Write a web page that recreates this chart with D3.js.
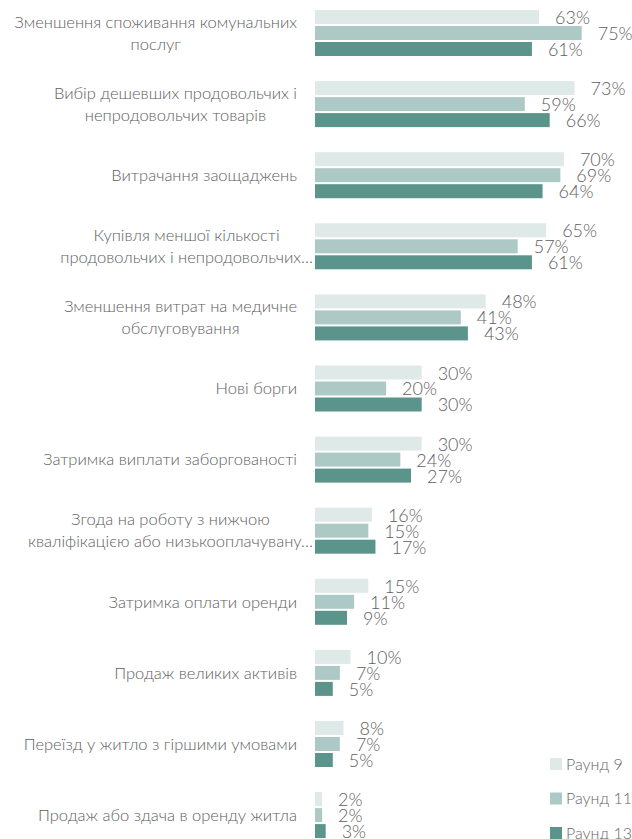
<!DOCTYPE html>
<html lang="uk">
<head>
    <meta charset="UTF-8">
    <title>Стратегії подолання</title>
    <script src="https://d3js.org/d3.v7.min.js"></script>
    <style>
        body, html {
            margin: 0;
            padding: 0;
            background: #fff;
            overflow: hidden;
        }
        text {
            font-family: Lato, "Open Sans", sans-serif;
            font-weight: 300;
        }
    </style>
</head>
<body>
    <div id="chart"></div>
    <script>
        // categories (line breaks as in the picture)
        var categories = [
            ["Зменшення споживання комунальних", "послуг"],
            ["Вибір дешевших продовольчих і", "непродовольчих товарів"],
            ["Витрачання заощаджень"],
            ["Купівля меншої кількості", "продовольчих і непродовольчих…"],
            ["Зменшення витрат на медичне", "обслуговування"],
            ["Нові борги"],
            ["Затримка виплати заборгованості"],
            ["Згода на роботу з нижчою", "кваліфікацією або низькооплачувану…"],
            ["Затримка оплати оренди"],
            ["Продаж великих активів"],
            ["Переїзд у житло з гіршими умовами"],
            ["Продаж або здача в оренду житла"]
        ];
        var seriesNames = ["Раунд 9", "Раунд 11", "Раунд 13"];
        var round9  = [63, 73, 70, 65, 48, 30, 30, 16, 15, 10, 8, 2];
        var round11 = [75, 59, 69, 57, 41, 20, 24, 15, 11, 7, 7, 2];
        var round13 = [61, 66, 64, 61, 43, 30, 27, 17, 9, 5, 5, 3];
        var colors = ["#dfe9e7", "#adc9c6", "#5b948b"];

        var width = 632, height = 839;
        var seriesValues = [round9, round11, round13];

        var svg = d3.select("#chart").append("svg")
            .attr("width", width)
            .attr("height", height);

        var idx = d3.range(categories.length);

        var y = d3.scaleBand()
            .domain(idx)
            .range([10, 838.1])
            .paddingInner(0.353)
            .paddingOuter(0);

        var ySub = d3.scaleBand()
            .domain(d3.range(seriesNames.length))
            .range([0, y.bandwidth()])
            .paddingInner(0.125);

        var x = d3.scaleLinear()
            .domain([0, 100])
            .range([315, 670.6]);

        var groups = svg.selectAll(".grp")
            .data(idx)
            .enter().append("g")
            .attr("class", "grp")
            .attr("transform", d => "translate(0," + y(d) + ")");

        // bars
        groups.selectAll("rect")
            .data(i => seriesValues.map((s, k) => ({k: k, v: s[i]})))
            .enter().append("rect")
            .attr("x", x(0))
            .attr("y", d => ySub(d.k))
            .attr("width", d => x(d.v) - x(0))
            .attr("height", ySub.bandwidth())
            .attr("fill", d => colors[d.k]);

        // value labels
        groups.selectAll(".val")
            .data(i => seriesValues.map((s, k) => ({k: k, v: s[i]})))
            .enter().append("text")
            .attr("class", "val")
            .attr("x", d => x(d.v) + 16)
            .attr("y", d => ySub(d.k) + ySub.bandwidth())
            .attr("fill", "#5e5e5e")
            .style("font-size", "18px")
            .text(d => d.v + "%");

        // category labels
        var lineH = 22;
        groups.each(function(i) {
            var g = d3.select(this);
            var lines = categories[i];
            var t = g.append("text")
                .attr("fill", "#5e5e5e")
                .style("font-size", "16.5px")
                .attr("text-anchor", "middle");
            var spans = lines.map((l, j) => t.append("tspan")
                .attr("y", y.bandwidth() / 2 + (j - (lines.length - 1) / 2) * lineH)
                .attr("dy", "0.35em")
                .text(l));
            var widest = 0, trunc = false;
            spans.forEach(s => {
                var w = s.node().getComputedTextLength();
                if (w > widest) { widest = w; trunc = s.text().endsWith("…"); }
            });
            var right = trunc ? 313 : 297;
            spans.forEach(s => s.attr("x", right - widest / 2));
        });

        // legend
        var legend = svg.selectAll(".leg")
            .data(seriesNames)
            .enter().append("g")
            .attr("class", "leg")
            .attr("transform", (d, k) => "translate(550," + (758 + k * 34.5) + ")");

        legend.append("rect")
            .attr("width", 12)
            .attr("height", 12)
            .attr("fill", (d, k) => colors[k]);

        legend.append("text")
            .attr("x", 16)
            .attr("y", 6)
            .attr("dy", "0.35em")
            .attr("fill", "#666")
            .style("font-size", "16px")
            .text(d => d);
    </script>
</body>
</html>
